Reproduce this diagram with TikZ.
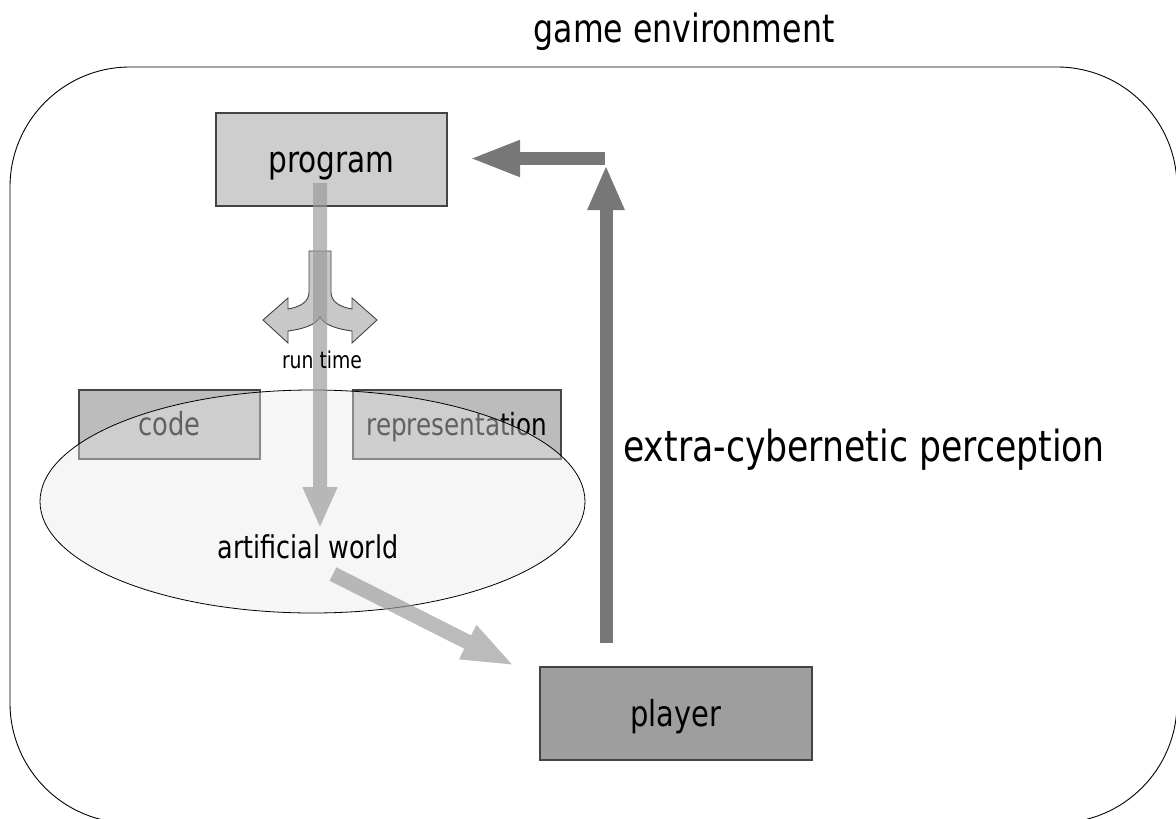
\documentclass[tikz,border=0pt]{standalone}
\usepackage{fontspec}
\setmainfont{DejaVu Sans}[FakeStretch=0.81]
\usetikzlibrary{arrows.meta,shapes.geometric}

\definecolor{progfill}{HTML}{CECECE}
\definecolor{boxfill}{HTML}{BCBCBC}
\definecolor{playerfill}{HTML}{9E9E9E}
\definecolor{darkarrow}{HTML}{777777}
\definecolor{lightarrow}{HTML}{999999}
\definecolor{splitfill}{HTML}{C8C8C8}
\definecolor{edge}{HTML}{444444}
\definecolor{worldfill}{HTML}{E9E9E9}

\tikzset{
  fs/.style={font=\fontsize{#1}{#1}\selectfont},
  block/.style={draw=edge, line width=1.2pt, inner sep=0pt, text depth=0pt},
  lightshaft/.style={draw=lightarrow, line width=14pt,
    -{Triangle[length=41pt,width=32pt]}},
  darkshaft/.style={draw=darkarrow, line width=13pt,
    -{Triangle[length=#1,width=34pt]}},
}

\begin{document}
\begin{tikzpicture}[x=1pt,y=-1pt]
\useasboundingbox (0,0) rectangle (1176,819);
\clip (0,0) rectangle (1176,819);

% environment frame
\draw[line width=0.9pt, rounded corners=120pt] (10,67) rectangle (1177,823);
\node[fs=39, anchor=base] (title) at (684,42) {game environment};

% boxes
\node[block, fill=progfill, minimum width=231pt, minimum height=93pt, fs=36.5,
  text height=25pt] (program) at (331.5,159.5) {program};
\node[block, fill=boxfill, minimum width=181pt, minimum height=69pt, fs=31.8,
  text height=21pt] (code) at (169.5,424.5) {code};
\node[block, fill=boxfill, minimum width=208pt, minimum height=69pt, fs=30.5,
  text height=21pt] (repr) at (457,424.5) {representation};
\node[block, fill=playerfill, minimum width=272pt, minimum height=93pt, fs=35.7,
  text height=25pt] (player) at (676,713.5) {player};

% artificial world, a translucent ellipse over the two boxes
\node[ellipse, draw=black, line width=0.8pt, fill=worldfill, fill opacity=0.42,
  minimum width=545pt, minimum height=223pt, inner sep=0pt]
  (world) at (312.5,501.5) {};
\node[fs=31.4, anchor=base] (worldlabel) at (308,558) {artificial world};

% splitting arrow
\filldraw[fill=splitfill, draw=edge, line width=0.9pt, line join=miter]
  (309,251) -- (309,292) .. controls (309,302) and (300,307) .. (288,309)
  -- (288,298) -- (263,320) -- (288,343) -- (288,331)
  .. controls (303,329) and (316,325) .. (320,317)
  .. controls (324,325) and (337,329) .. (352,331)
  -- (352,343) -- (377,320) -- (352,298) -- (352,309)
  .. controls (340,307) and (331,302) .. (331,292) -- (331,251) -- cycle;

% light arrows
\coordinate (runStart) at (320,183);
\coordinate (runEnd) at (320,528);
\coordinate (outStart) at (333,574);
\coordinate (outEnd) at (515,666);
\begin{scope}[transparency group, opacity=0.67]
  \draw[lightshaft] (runStart) -- (runEnd);
  \draw[lightshaft, -{Triangle[length=53pt,width=34pt]}, line width=15pt]
    (outStart) -- (outEnd);
\end{scope}
\node[fs=23.2, anchor=base] (runtime) at (322,368) {run time};

% feedback arrows
\coordinate (upStart) at (606,643);
\coordinate (upEnd) at (606,165);
\coordinate (turn) at (605,158.5);
\coordinate (backEnd) at (469,158.5);
\draw[darkshaft=45pt] (upStart) -- (upEnd);
\draw[darkshaft=51pt, -{Triangle[length=51pt,width=33pt]}] (turn) -- (backEnd);
\node[fs=42.8, anchor=base] (perception) at (864,461) {extra-cybernetic perception};
\end{tikzpicture}
\end{document}
